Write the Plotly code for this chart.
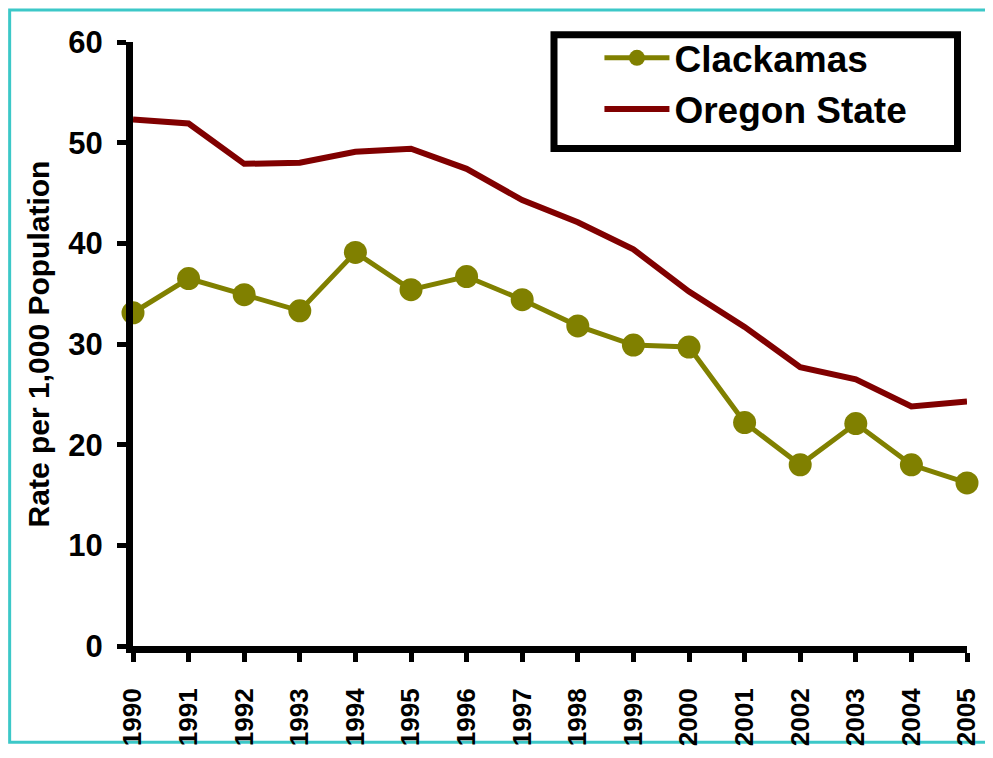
import plotly.graph_objects as go

years = list(range(1990, 2006))
clackamas = [33.1, 36.5, 34.9, 33.3, 39.1, 35.4, 36.7, 34.4, 31.8, 29.9, 29.7, 22.2, 18.0, 22.1, 18.0, 16.2]
oregon = [52.3, 51.9, 47.9, 48.0, 49.1, 49.4, 47.4, 44.3, 42.1, 39.4, 35.2, 31.7, 27.7, 26.5, 23.8, 24.3]

# page has an 8px body margin, so the figure starts at (8, 8) in the window
W, H = 985, 750
L, R, T, B = 125, 25, 34, 101
pw, ph = W - L - R, H - T - B


def px(x):
    return (x - L) / pw


def py(y):
    return (T + ph - y) / ph


font = "Arial, Liberation Sans, sans-serif"

fig = go.Figure()
fig.add_trace(go.Scatter(x=years, y=clackamas, name="Clackamas", mode="lines+markers",
                         line=dict(color="#808000", width=5),
                         marker=dict(size=23, color="#808000"), cliponaxis=False))
fig.add_trace(go.Scatter(x=years, y=oregon, name="Oregon State", mode="lines",
                         line=dict(color="#800000", width=6), cliponaxis=False))

# outer cyan frame
fig.add_shape(type="rect", xref="paper", yref="paper",
              x0=px(1.5), x1=px(982), y0=py(747), y1=py(1.5),
              line=dict(color="#3cc8c8", width=3), layer="below")
# legend box
fig.add_shape(type="rect", xref="paper", yref="paper",
              x0=px(546.5), x1=px(950.5), y0=py(142.5), y1=py(26.5),
              line=dict(color="black", width=7), fillcolor="white", layer="above")

fig.update_layout(
    width=W, height=H,
    margin=dict(l=L, r=R, t=T, b=B),
    paper_bgcolor="white", plot_bgcolor="white",
    font=dict(family=font, color="black", size=24),
    legend=dict(x=px(592), y=py(19), xanchor="left", yanchor="top",
                borderwidth=0, bgcolor="rgba(0,0,0,0)",
                font=dict(size=37, family=font, weight="bold"),
                itemwidth=65, traceorder="normal"),
    xaxis=dict(range=[1990, 2005], tickmode="array", tickvals=years,
               ticktext=[str(y) for y in years], tickangle=-90,
               showline=True, linecolor="black", linewidth=7,
               ticks="outside", ticklen=9, tickwidth=5, tickcolor="black",
               ticklabelstandoff=16,
               showgrid=False, zeroline=False,
               tickfont=dict(size=26, family=font, weight="bold")),
    yaxis=dict(range=[0, 60], tickvals=[0, 10, 20, 30, 40, 50, 60],
               showline=True, linecolor="black", linewidth=7,
               ticks="outside", ticklen=9, tickwidth=5, tickcolor="black",
               ticklabelstandoff=8,
               showgrid=False, zeroline=False,
               tickfont=dict(size=31, family=font, weight="bold"),
               title=dict(text="Rate per 1,000 Population", standoff=12,
                          font=dict(size=30, family=font, weight="bold"))),
)

fig.write_html("out.html")
